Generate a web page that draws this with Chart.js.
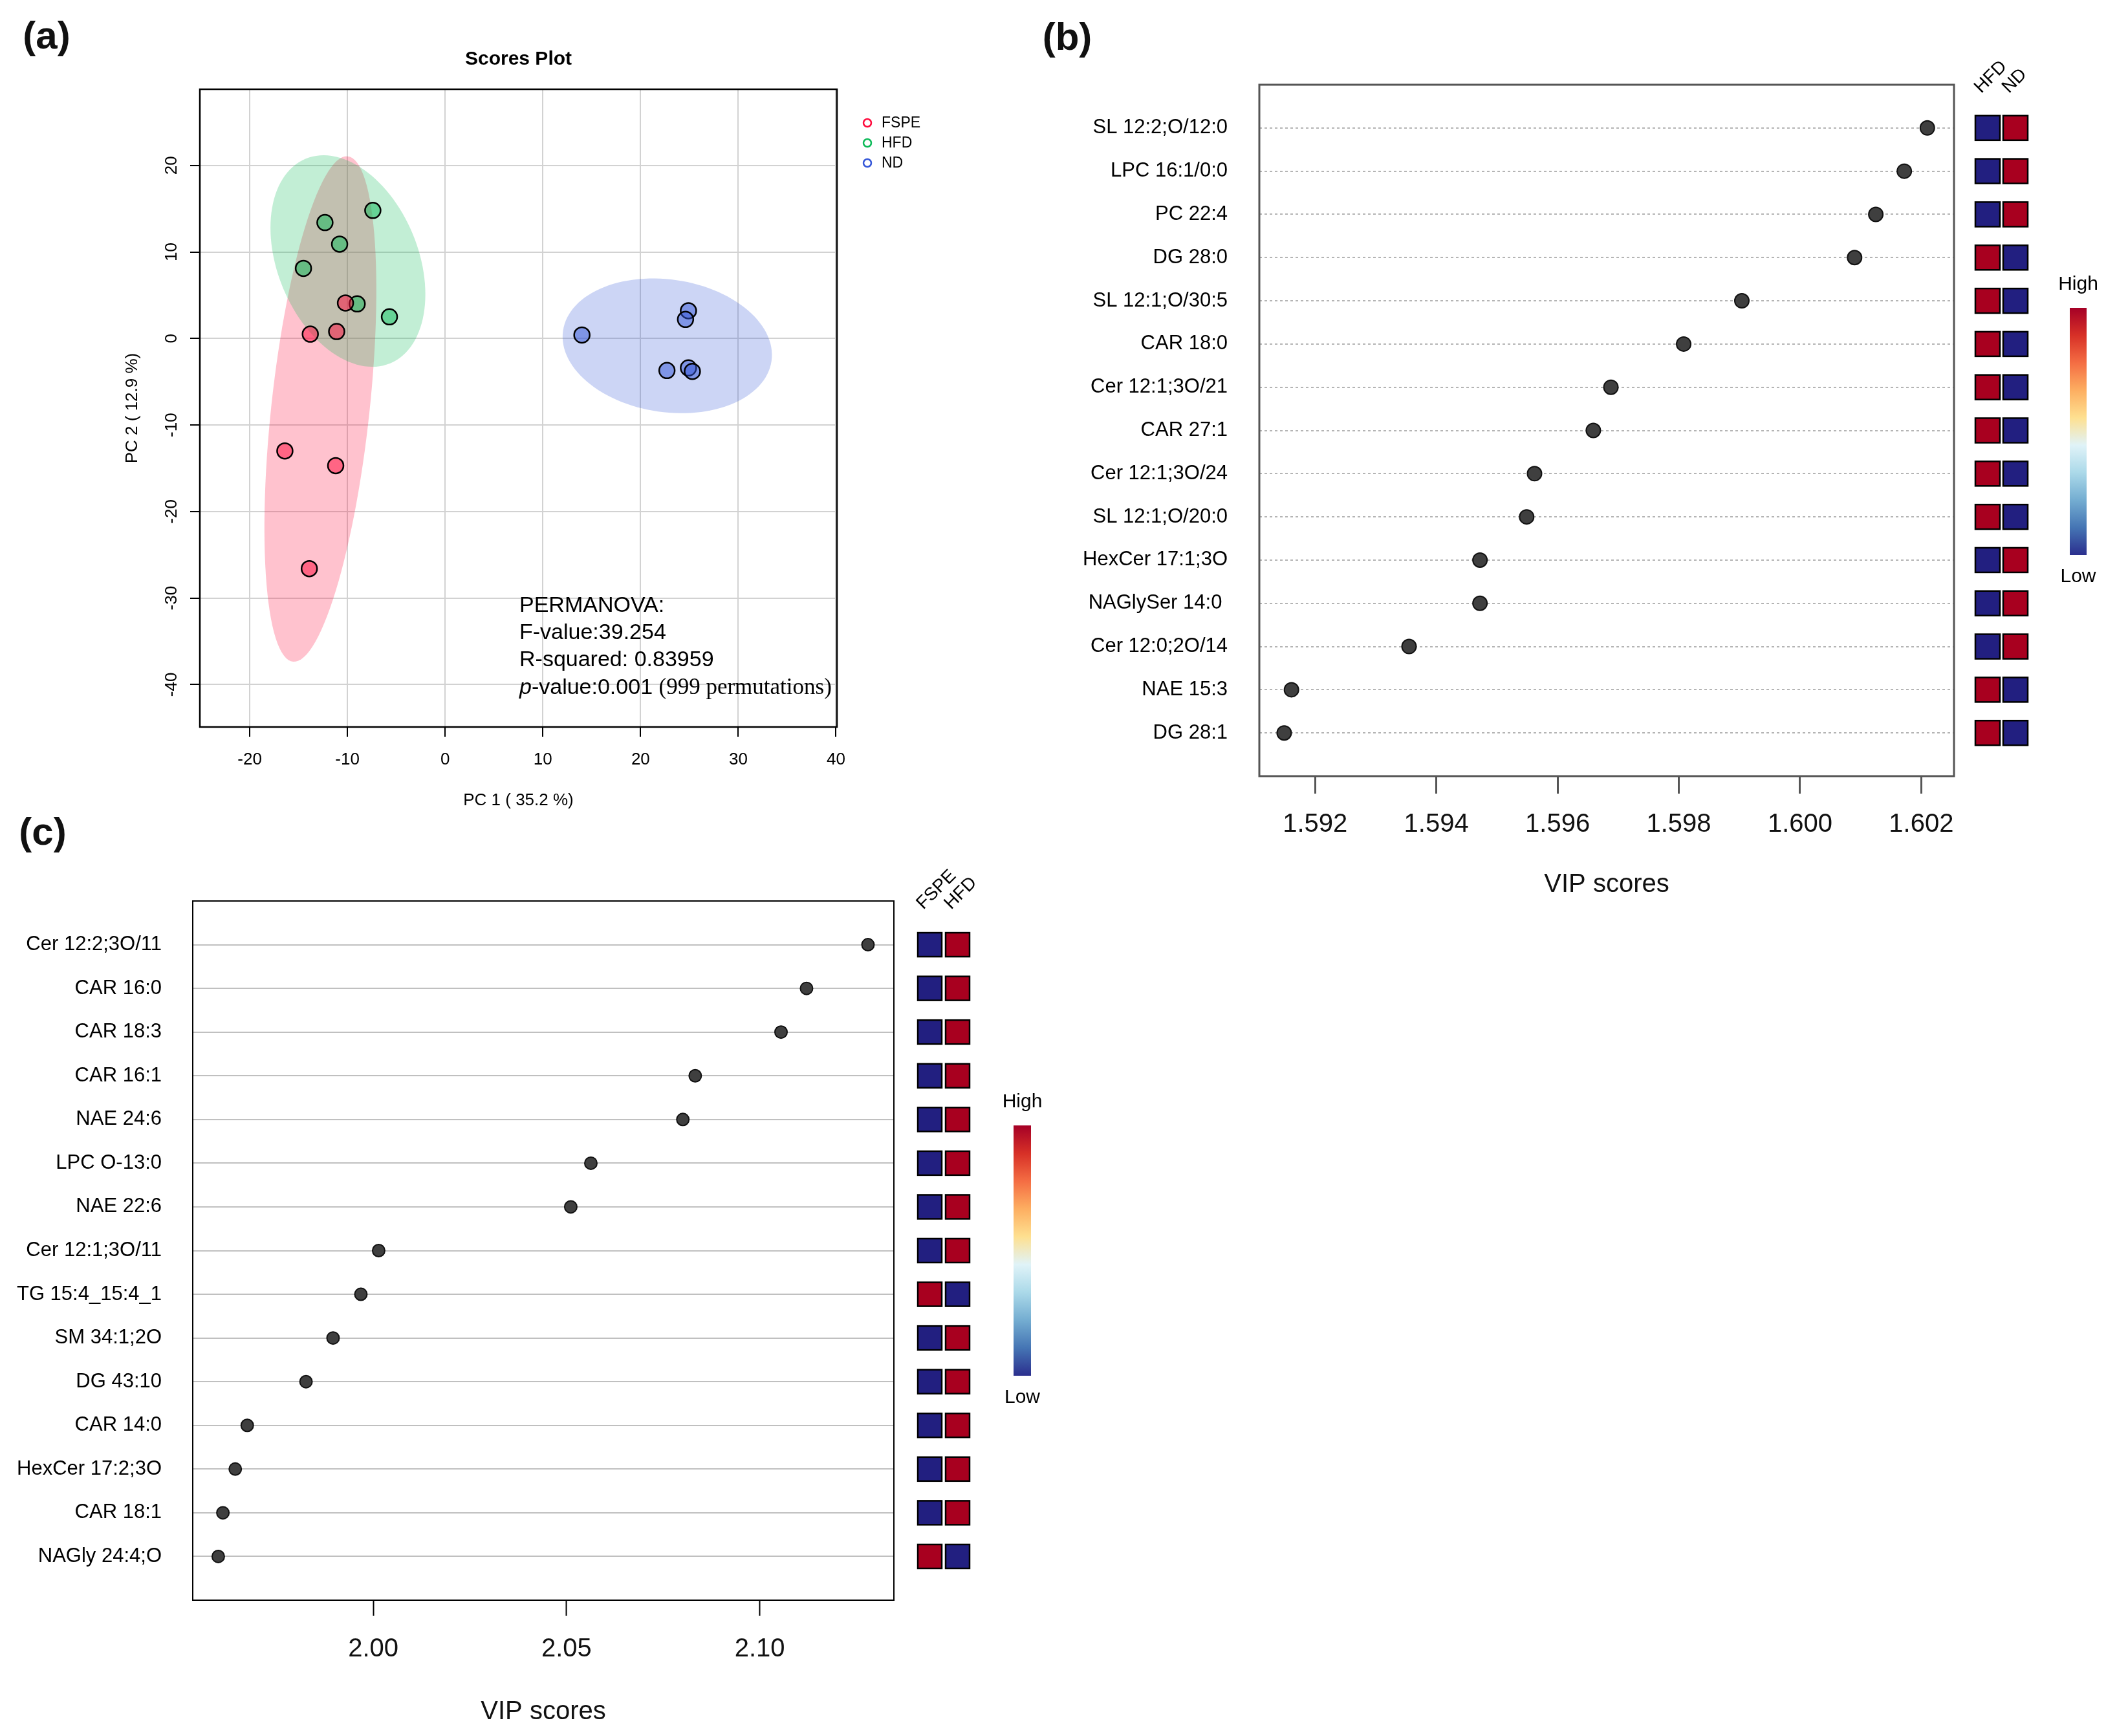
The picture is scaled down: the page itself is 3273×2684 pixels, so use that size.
<!DOCTYPE html>
<html>
<head>
<meta charset="utf-8">
<title>Scores plot and VIP scores</title>
<script src="https://cdn.jsdelivr.net/npm/chart.js@4.4.1/dist/chart.umd.min.js"></script>
<style>
  html, body { margin: 0; padding: 0; background: #fff; }
  body { position: relative; width: 3273px; height: 2684px; overflow: hidden; }
  canvas { position: absolute; }
  #chart-a { left: 0; top: 0; }
  #chart-b { left: 1560px; top: 0; }
  #chart-c { left: 0; top: 1290px; }
  .panel-tag {
    position: absolute; transform: translate(-50%, -50%);
    font: bold 60px 'Liberation Sans', Arial, sans-serif; line-height: 1; color: #111;
  }
</style>
</head>
<body>
<canvas id="chart-a" width="1560" height="1290"></canvas>
<canvas id="chart-b" width="1713" height="1420"></canvas>
<canvas id="chart-c" width="1700" height="1394"></canvas>
<div class="panel-tag" style="left:72px; top:55px;">(a)</div>
<div class="panel-tag" style="left:1650px; top:57px;">(b)</div>
<div class="panel-tag" style="left:66px; top:1286px;">(c)</div>

<script>
const FONT = "'Liberation Sans', Arial, Helvetica, sans-serif";

// Panel (a) - PCA scores per group
const groupNames = ['FSPE', 'HFD', 'ND'];
const fspePC1 = [-10.2, -13.8, -11.1, -16.4, -11.2, -13.9];
const fspePC2 = [4.1, 0.5, 0.8, -13.0, -14.7, -26.6];
const hfdPC1 = [-7.4, -12.3, -10.8, -14.5, -9.0, -5.7];
const hfdPC2 = [14.8, 13.4, 10.9, 8.1, 4.0, 2.5];
const ndPC1 = [14.0, 24.9, 24.6, 22.7, 24.9, 25.3];
const ndPC2 = [0.4, 3.2, 2.2, -3.7, -3.4, -3.8];
const pc1Ticks = [-20, -10, 0, 10, 20, 30, 40];
const pc2Ticks = [-40, -30, -20, -10, 0, 10, 20];
const pc1Range = [-25.1, 40.1];
const pc2Range = [-44.9, 28.8];
const pc1Label = 'PC 1 ( 35.2 %)';
const pc2Label = 'PC 2 ( 12.9 %)';
const permanovaF = '39.254';
const permanovaR2 = '0.83959';
const permanovaP = '0.001';
const permutations = 999;
const ellipseLevel = 0.95;

// Panel (b) - VIP scores HFD vs ND
const vipBFeatures = ['SL 12:2;O/12:0', 'LPC 16:1/0:0', 'PC 22:4', 'DG 28:0', 'SL 12:1;O/30:5',
  'CAR 18:0', 'Cer 12:1;3O/21', 'CAR 27:1', 'Cer 12:1;3O/24', 'SL 12:1;O/20:0',
  'HexCer 17:1;3O', 'NAGlySer 14:0 ', 'Cer 12:0;2O/14', 'NAE 15:3', 'DG 28:1'];
const vipBScores = [1.60210, 1.60172, 1.60125, 1.60090, 1.59904, 1.59808, 1.59688, 1.59659,
  1.59562, 1.59549, 1.59472, 1.59472, 1.59355, 1.59161, 1.59149];
const vipBGroups = ['HFD', 'ND'];
const vipBHighHFD = [0, 0, 0, 1, 1, 1, 1, 1, 1, 1, 0, 0, 0, 1, 1];
const vipBHighND = [1, 1, 1, 0, 0, 0, 0, 0, 0, 0, 1, 1, 1, 0, 0];
const vipBTicks = [1.592, 1.594, 1.596, 1.598, 1.600, 1.602];
const vipBRange = [1.59108, 1.60254];

// Panel (c) - VIP scores FSPE vs HFD
const vipCFeatures = ['Cer 12:2;3O/11', 'CAR 16:0', 'CAR 18:3', 'CAR 16:1', 'NAE 24:6',
  'LPC O-13:0', 'NAE 22:6', 'Cer 12:1;3O/11', 'TG 15:4_15:4_1', 'SM 34:1;2O',
  'DG 43:10', 'CAR 14:0', 'HexCer 17:2;3O', 'CAR 18:1', 'NAGly 24:4;O'];
const vipCScores = [2.1280, 2.1121, 2.1055, 2.0833, 2.0801, 2.0563, 2.0511, 2.0014,
  1.9968, 1.9896, 1.9826, 1.9674, 1.9643, 1.9611, 1.9599];
const vipCGroups = ['FSPE', 'HFD'];
const vipCHighFSPE = [0, 0, 0, 0, 0, 0, 0, 0, 1, 0, 0, 0, 0, 0, 1];
const vipCHighHFD = [1, 1, 1, 1, 1, 1, 1, 1, 0, 1, 1, 1, 1, 1, 0];
const vipCTicks = [2.00, 2.05, 2.10];
const vipCRange = [1.9533, 2.1347];

// Styling
const groupRGB = { FSPE: [255, 10, 60], HFD: [12, 186, 88], ND: [52, 86, 216] };
const HIGH_COLOR = '#A8001F';
const LOW_COLOR = '#221F80';
const RAMP = ['#A50026', '#D73027', '#F46D43', '#FDAE61', '#FEE090',
  '#E0F3F8', '#ABD9E9', '#74ADD1', '#4575B4', '#2B2F8E'];

const rgba = (c, a) => `rgba(${c[0]},${c[1]},${c[2]},${a})`;
const fixTicks = values => scale => { scale.ticks = values.map(v => ({ value: v })); };

// Confidence ellipse outline (same parametrisation as R's ellipse package)
function ellipseOutline(xs, ys, level) {
    const n = xs.length;
    const mx = xs.reduce((s, v) => s + v, 0) / n;
    const my = ys.reduce((s, v) => s + v, 0) / n;
    let sxx = 0, syy = 0, sxy = 0;
    for (let i = 0; i < n; i++) {
        sxx += (xs[i] - mx) ** 2;
        syy += (ys[i] - my) ** 2;
        sxy += (xs[i] - mx) * (ys[i] - my);
    }
    const sx = Math.sqrt(sxx / (n - 1));
    const sy = Math.sqrt(syy / (n - 1));
    const r = (sxy / (n - 1)) / (sx * sy);
    const d = Math.acos(r);
    const t = Math.sqrt(-2 * Math.log(1 - level)); // chi-square quantile, 2 df
    const pts = [];
    for (let k = 0; k <= 120; k++) {
        const a = (k / 120) * 2 * Math.PI;
        pts.push([mx + t * sx * Math.cos(a + d / 2), my + t * sy * Math.cos(a - d / 2)]);
    }
    return pts;
}

function buildPcaChart() {
    const groups = [
        { name: groupNames[0], xs: fspePC1, ys: fspePC2 },
        { name: groupNames[1], xs: hfdPC1, ys: hfdPC2 },
        { name: groupNames[2], xs: ndPC1, ys: ndPC2 }
    ];

    const extras = {
        id: 'pcaExtras',
        beforeDatasetsDraw(chart) {
            const { ctx, chartArea: a, scales: { x, y } } = chart;
            ctx.save();
            ctx.beginPath();
            ctx.rect(a.left, a.top, a.right - a.left, a.bottom - a.top);
            ctx.clip();
            groups.forEach(g => {
                const pts = ellipseOutline(g.xs, g.ys, ellipseLevel);
                ctx.beginPath();
                pts.forEach(([px, py], i) => {
                    const X = x.getPixelForValue(px), Y = y.getPixelForValue(py);
                    if (i === 0) ctx.moveTo(X, Y); else ctx.lineTo(X, Y);
                });
                ctx.closePath();
                ctx.fillStyle = rgba(groupRGB[g.name], 0.25);
                ctx.fill();
            });
            ctx.restore();
        },
        afterDraw(chart) {
            const { ctx, chartArea: a } = chart;
            ctx.save();
            ctx.strokeStyle = '#000';
            ctx.lineWidth = 2.5;
            ctx.strokeRect(a.left, a.top, a.right - a.left, a.bottom - a.top);

            ctx.fillStyle = '#000';
            ctx.textBaseline = 'middle';
            ctx.textAlign = 'center';
            ctx.font = `bold 30px ${FONT}`;
            ctx.fillText('Scores Plot', (a.left + a.right) / 2, 92);

            // legend
            ctx.textAlign = 'left';
            ctx.font = `23px ${FONT}`;
            groups.forEach((g, i) => {
                const cy = 190 + i * 31;
                ctx.beginPath();
                ctx.arc(1341, cy, 6, 0, 2 * Math.PI);
                ctx.lineWidth = 2.5;
                ctx.strokeStyle = rgba(groupRGB[g.name], 1);
                ctx.stroke();
                ctx.fillText(g.name, 1363, cy + 1);
            });

            // PERMANOVA annotation
            ctx.textBaseline = 'alphabetic';
            ctx.font = `34px ${FONT}`;
            ctx.fillText('PERMANOVA:', 803, 946);
            ctx.fillText('F-value:' + permanovaF, 803, 988);
            ctx.fillText('R-squared: ' + permanovaR2, 803, 1030);
            ctx.font = `italic 34px ${FONT}`;
            ctx.fillText('p', 803, 1073);
            let xp = 803 + ctx.measureText('p').width;
            ctx.font = `34px ${FONT}`;
            ctx.fillText('-value:' + permanovaP, xp, 1073);
            xp += ctx.measureText('-value:' + permanovaP + ' ').width;
            ctx.font = "35px 'Liberation Serif', 'Times New Roman', serif";
            ctx.fillText(`(${permutations} permutations)`, xp, 1073);
            ctx.restore();
        }
    };

    return new Chart(document.getElementById('chart-a'), {
        type: 'scatter',
        data: {
            datasets: groups.map(g => ({
                label: g.name,
                data: g.xs.map((v, i) => ({ x: v, y: g.ys[i] })),
                pointRadius: 12,
                pointHoverRadius: 12,
                pointBorderWidth: 2.5,
                borderColor: '#000',
                backgroundColor: rgba(groupRGB[g.name], 0.5)
            }))
        },
        options: {
            responsive: false,
            devicePixelRatio: 1,
            animation: false,
            events: [],
            layout: { padding: { top: 138, right: 266, bottom: 0, left: 0 } },
            plugins: { legend: { display: false }, tooltip: { enabled: false } },
            scales: {
                x: {
                    type: 'linear', min: pc1Range[0], max: pc1Range[1],
                    afterBuildTicks: fixTicks(pc1Ticks),
                    afterFit: s => { s.height = 166; },
                    border: { display: false },
                    grid: { color: '#D2D2D2', lineWidth: 2, tickColor: '#000', tickLength: 15, tickWidth: 2 },
                    ticks: { autoSkip: false, maxRotation: 0, padding: 20, color: '#000', font: { family: FONT, size: 26 } },
                    title: { display: true, text: pc1Label, color: '#000', font: { family: FONT, size: 26 }, padding: { top: 0, bottom: 37 } }
                },
                y: {
                    type: 'linear', min: pc2Range[0], max: pc2Range[1],
                    afterBuildTicks: fixTicks(pc2Ticks),
                    afterFit: s => { s.width = 309; },
                    border: { display: false },
                    grid: { color: '#D2D2D2', lineWidth: 2, tickColor: '#000', tickLength: 15, tickWidth: 2 },
                    ticks: { autoSkip: false, minRotation: 90, maxRotation: 90, crossAlign: 'center', padding: 9, color: '#000', font: { family: FONT, size: 26 } },
                    title: { display: true, text: pc2Label, color: '#000', font: { family: FONT, size: 26 }, padding: { top: 189, bottom: 0 } }
                }
            }
        },
        plugins: [extras]
    });
}

// Dot chart of VIP scores with the group heat squares and colour key
function buildVipChart(canvasId, cfg) {
    const n = cfg.features.length;
    const canvas = document.getElementById(canvasId);
    const W = canvas.width, H = canvas.height, A = cfg.area;

    const extras = {
        id: 'vipExtras',
        afterDraw(chart) {
            const { ctx, chartArea: a, scales: { y } } = chart;
            ctx.save();
            ctx.strokeStyle = cfg.boxColor;
            ctx.lineWidth = cfg.boxWidth;
            ctx.strokeRect(a.left, a.top, a.right - a.left, a.bottom - a.top);

            // heat squares
            const s = cfg.cell.size;
            cfg.columns.forEach((col, j) => {
                const x0 = a.right + cfg.cell.offset + j * (s + cfg.cell.gap);
                col.high.forEach((h, i) => {
                    const yc = y.getPixelForValue(n - i);
                    ctx.fillStyle = h ? HIGH_COLOR : LOW_COLOR;
                    ctx.fillRect(x0, yc - s / 2, s, s);
                    ctx.lineWidth = 2.5;
                    ctx.strokeStyle = '#000';
                    ctx.strokeRect(x0, yc - s / 2, s, s);
                });
                ctx.save();
                ctx.translate(x0 + s / 2 - 10, a.top + 14);
                ctx.rotate(-Math.PI / 4);
                ctx.fillStyle = '#000';
                ctx.font = `28px ${FONT}`;
                ctx.textAlign = 'left';
                ctx.textBaseline = 'alphabetic';
                ctx.fillText(col.name, 0, 0);
                ctx.restore();
            });

            // colour key
            const k = cfg.key;
            const grad = ctx.createLinearGradient(0, k.top, 0, k.bottom);
            RAMP.forEach((c, i) => grad.addColorStop(i / (RAMP.length - 1), c));
            ctx.fillStyle = grad;
            ctx.fillRect(k.left, k.top, k.width, k.bottom - k.top);
            ctx.fillStyle = '#000';
            ctx.font = `30px ${FONT}`;
            ctx.textAlign = 'center';
            ctx.textBaseline = 'middle';
            ctx.fillText('High', k.left + k.width / 2, k.top - 36);
            ctx.fillText('Low', k.left + k.width / 2, k.bottom + 34);
            ctx.restore();
        }
    };

    return new Chart(canvas, {
        type: 'scatter',
        data: {
            datasets: [{
                label: 'VIP scores',
                data: cfg.scores.map((v, i) => ({ x: v, y: n - i })),
                pointRadius: cfg.dotRadius,
                pointHoverRadius: cfg.dotRadius,
                pointBorderWidth: 2,
                borderColor: '#111',
                backgroundColor: '#3F3F3F'
            }]
        },
        options: {
            responsive: false,
            devicePixelRatio: 1,
            animation: false,
            events: [],
            layout: { padding: { top: A.top, right: W - A.right, bottom: 0, left: 0 } },
            plugins: { legend: { display: false }, tooltip: { enabled: false } },
            scales: {
                x: {
                    type: 'linear', min: cfg.range[0], max: cfg.range[1],
                    afterBuildTicks: fixTicks(cfg.ticks),
                    afterFit: s => { s.height = H - A.bottom; },
                    border: { display: false },
                    grid: { drawOnChartArea: false, tickColor: cfg.boxColor, tickLength: cfg.tickLength, tickWidth: cfg.boxWidth },
                    ticks: {
                        autoSkip: false, maxRotation: 0, padding: cfg.xPad, color: '#111',
                        font: { family: FONT, size: 40 },
                        callback: v => v.toFixed(cfg.decimals)
                    },
                    title: { display: true, text: 'VIP scores', color: '#111', font: { family: FONT, size: 40 }, padding: { top: 0, bottom: cfg.titlePad } }
                },
                y: {
                    type: 'linear', min: 0, max: n + 1,
                    afterBuildTicks: fixTicks(cfg.features.map((f, i) => n - i)),
                    afterFit: s => { s.width = A.left; },
                    border: { display: false, dash: cfg.gridDash },
                    grid: { color: cfg.gridColor, lineWidth: 2, drawTicks: false },
                    ticks: {
                        autoSkip: false, padding: cfg.yPad, color: '#000',
                        font: { family: FONT, size: 31 },
                        callback: v => cfg.features[n - v]
                    }
                }
            }
        },
        plugins: [extras]
    });
}

document.addEventListener('DOMContentLoaded', () => {
    buildPcaChart();

    buildVipChart('chart-b', {
        features: vipBFeatures, scores: vipBScores, ticks: vipBTicks, range: vipBRange, decimals: 3,
        columns: [{ name: vipBGroups[0], high: vipBHighHFD }, { name: vipBGroups[1], high: vipBHighND }],
        area: { left: 387, right: 1461, top: 131, bottom: 1200 },
        boxColor: '#555', boxWidth: 3, gridColor: '#B4B4B4', gridDash: [4, 4],
        tickLength: 27, xPad: 24, yPad: 49, titlePad: 28, dotRadius: 11,
        cell: { offset: 33, size: 38, gap: 5 },
        key: { left: 1640, width: 26, top: 476, bottom: 858 }
    });

    buildVipChart('chart-c', {
        features: vipCFeatures, scores: vipCScores, ticks: vipCTicks, range: vipCRange, decimals: 2,
        columns: [{ name: vipCGroups[0], high: vipCHighFSPE }, { name: vipCGroups[1], high: vipCHighHFD }],
        area: { left: 298, right: 1382, top: 103, bottom: 1184 },
        boxColor: '#000', boxWidth: 2, gridColor: '#C0C0C0', gridDash: [],
        tickLength: 24, xPad: 28, yPad: 48, titlePad: 13, dotRadius: 9.5,
        cell: { offset: 37, size: 37, gap: 6 },
        key: { left: 1567, width: 27, top: 450, bottom: 837 }
    });
});
</script>
</body>
</html>
